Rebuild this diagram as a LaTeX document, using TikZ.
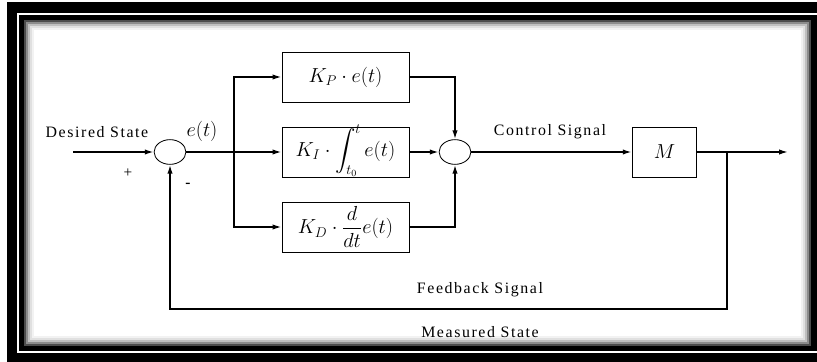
\documentclass[tikz,border=0pt]{standalone}
\usepackage{amsmath}
\usepackage{fontspec}
\setmainfont{Liberation Serif}
\newfontfamily\labelfont[LetterSpace=10]{Liberation Serif}
\usepackage{tikz}
\usetikzlibrary{shapes.geometric, arrows.meta, positioning}

\tikzset{
  block/.style={draw, line width=0.8pt, minimum width=108pt, minimum height=42.5pt,
    font=\fontsize{17}{20}\selectfont},
  sumnode/.style={ellipse, draw, line width=0.7pt, minimum width=27pt, minimum height=21pt, inner sep=0pt},
  signal/.style={line width=1.3pt},
  arr/.style={signal, -{Latex[length=7.5pt, width=4.5pt]}},
  tag/.style={font=\labelfont\fontsize{13.5}{15}\selectfont},
}

\begin{document}
\begin{tikzpicture}[x=0.85pt, y=-0.85pt]
    \useasboundingbox (0,0) rectangle (817,362);
    \clip (0,0) rectangle (817,362);

    % Frame with inner shadow
    \fill (7,2) rectangle (817,362);
    \draw[white, line width=1.6pt] (820,14) -- (18,14) -- (18,352) -- (820,352);
    \fill[black!70] (24,20) rectangle (811,346);
    \fill[black!45] (26,22) rectangle (809,344);
    \fill[black!25] (28,24) rectangle (807,342);
    \fill[black!12] (30,26) rectangle (805,340);
    \fill[black!5] (32,28) rectangle (803,338);
    \fill[white] (34,30) rectangle (801,336);

    % Blocks
    \node[sumnode] (sum1) at (170,152) {};
    \node[sumnode] (sum2) at (455,152) {};
    \node[block] (kp) at (345.5,77) {$K_P\cdot e(t)$};
    \node[block, text height=12pt, text depth=5pt] (ki) at (345.5,152)
        {$K_I\cdot\displaystyle\int_{t_0}^{t} e(t)$};
    \node[block] (kd) at (345.5,227) {$K_D\cdot\dfrac{d}{dt}e(t)$};
    \node[block, minimum width=55pt] (plant) at (664.5,152) {$M$};

    % Points on the lines
    \coordinate (in) at (73,152);
    \coordinate (split) at (234,152);
    \coordinate (tap) at (727,152);
    \coordinate (out) at (788,152);
    \coordinate (fb) at (170,309);

    % Forward path
    \draw[arr] (in) -- (sum1);
    \draw[signal] (sum1) -- (split);
    \draw[arr] (split) -- (ki);
    \draw[arr] (split) |- (kp);
    \draw[arr] (split) |- (kd);
    \draw[arr] (kp.east) -| (sum2.north);
    \draw[arr] (ki) -- (sum2);
    \draw[arr] (kd.east) -| (sum2.south);
    \draw[arr] (sum2) -- (plant);
    \draw[arr] (plant) -- (out);

    % Feedback path
    \draw[arr] (tap) |- (fb) -- (sum1.south);

    % Labels
    \node[tag] (desired) at (97,132) {Desired State};
    \node[font=\fontsize{16}{18}\selectfont] (err) at (202,131) {$e(t)$};
    \node[font=\fontsize{13}{15}\selectfont] (plus) at (128,173) {+};
    \node[font=\bfseries\fontsize{13}{15}\selectfont] (minus) at (188,185) {-};
    \node[tag] (control) at (550,132) {Control Signal};
    \node[tag] (feedback) at (480,290) {Feedback Signal};
    \node[tag] (measured) at (480,332) {Measured State};
\end{tikzpicture}
\end{document}
